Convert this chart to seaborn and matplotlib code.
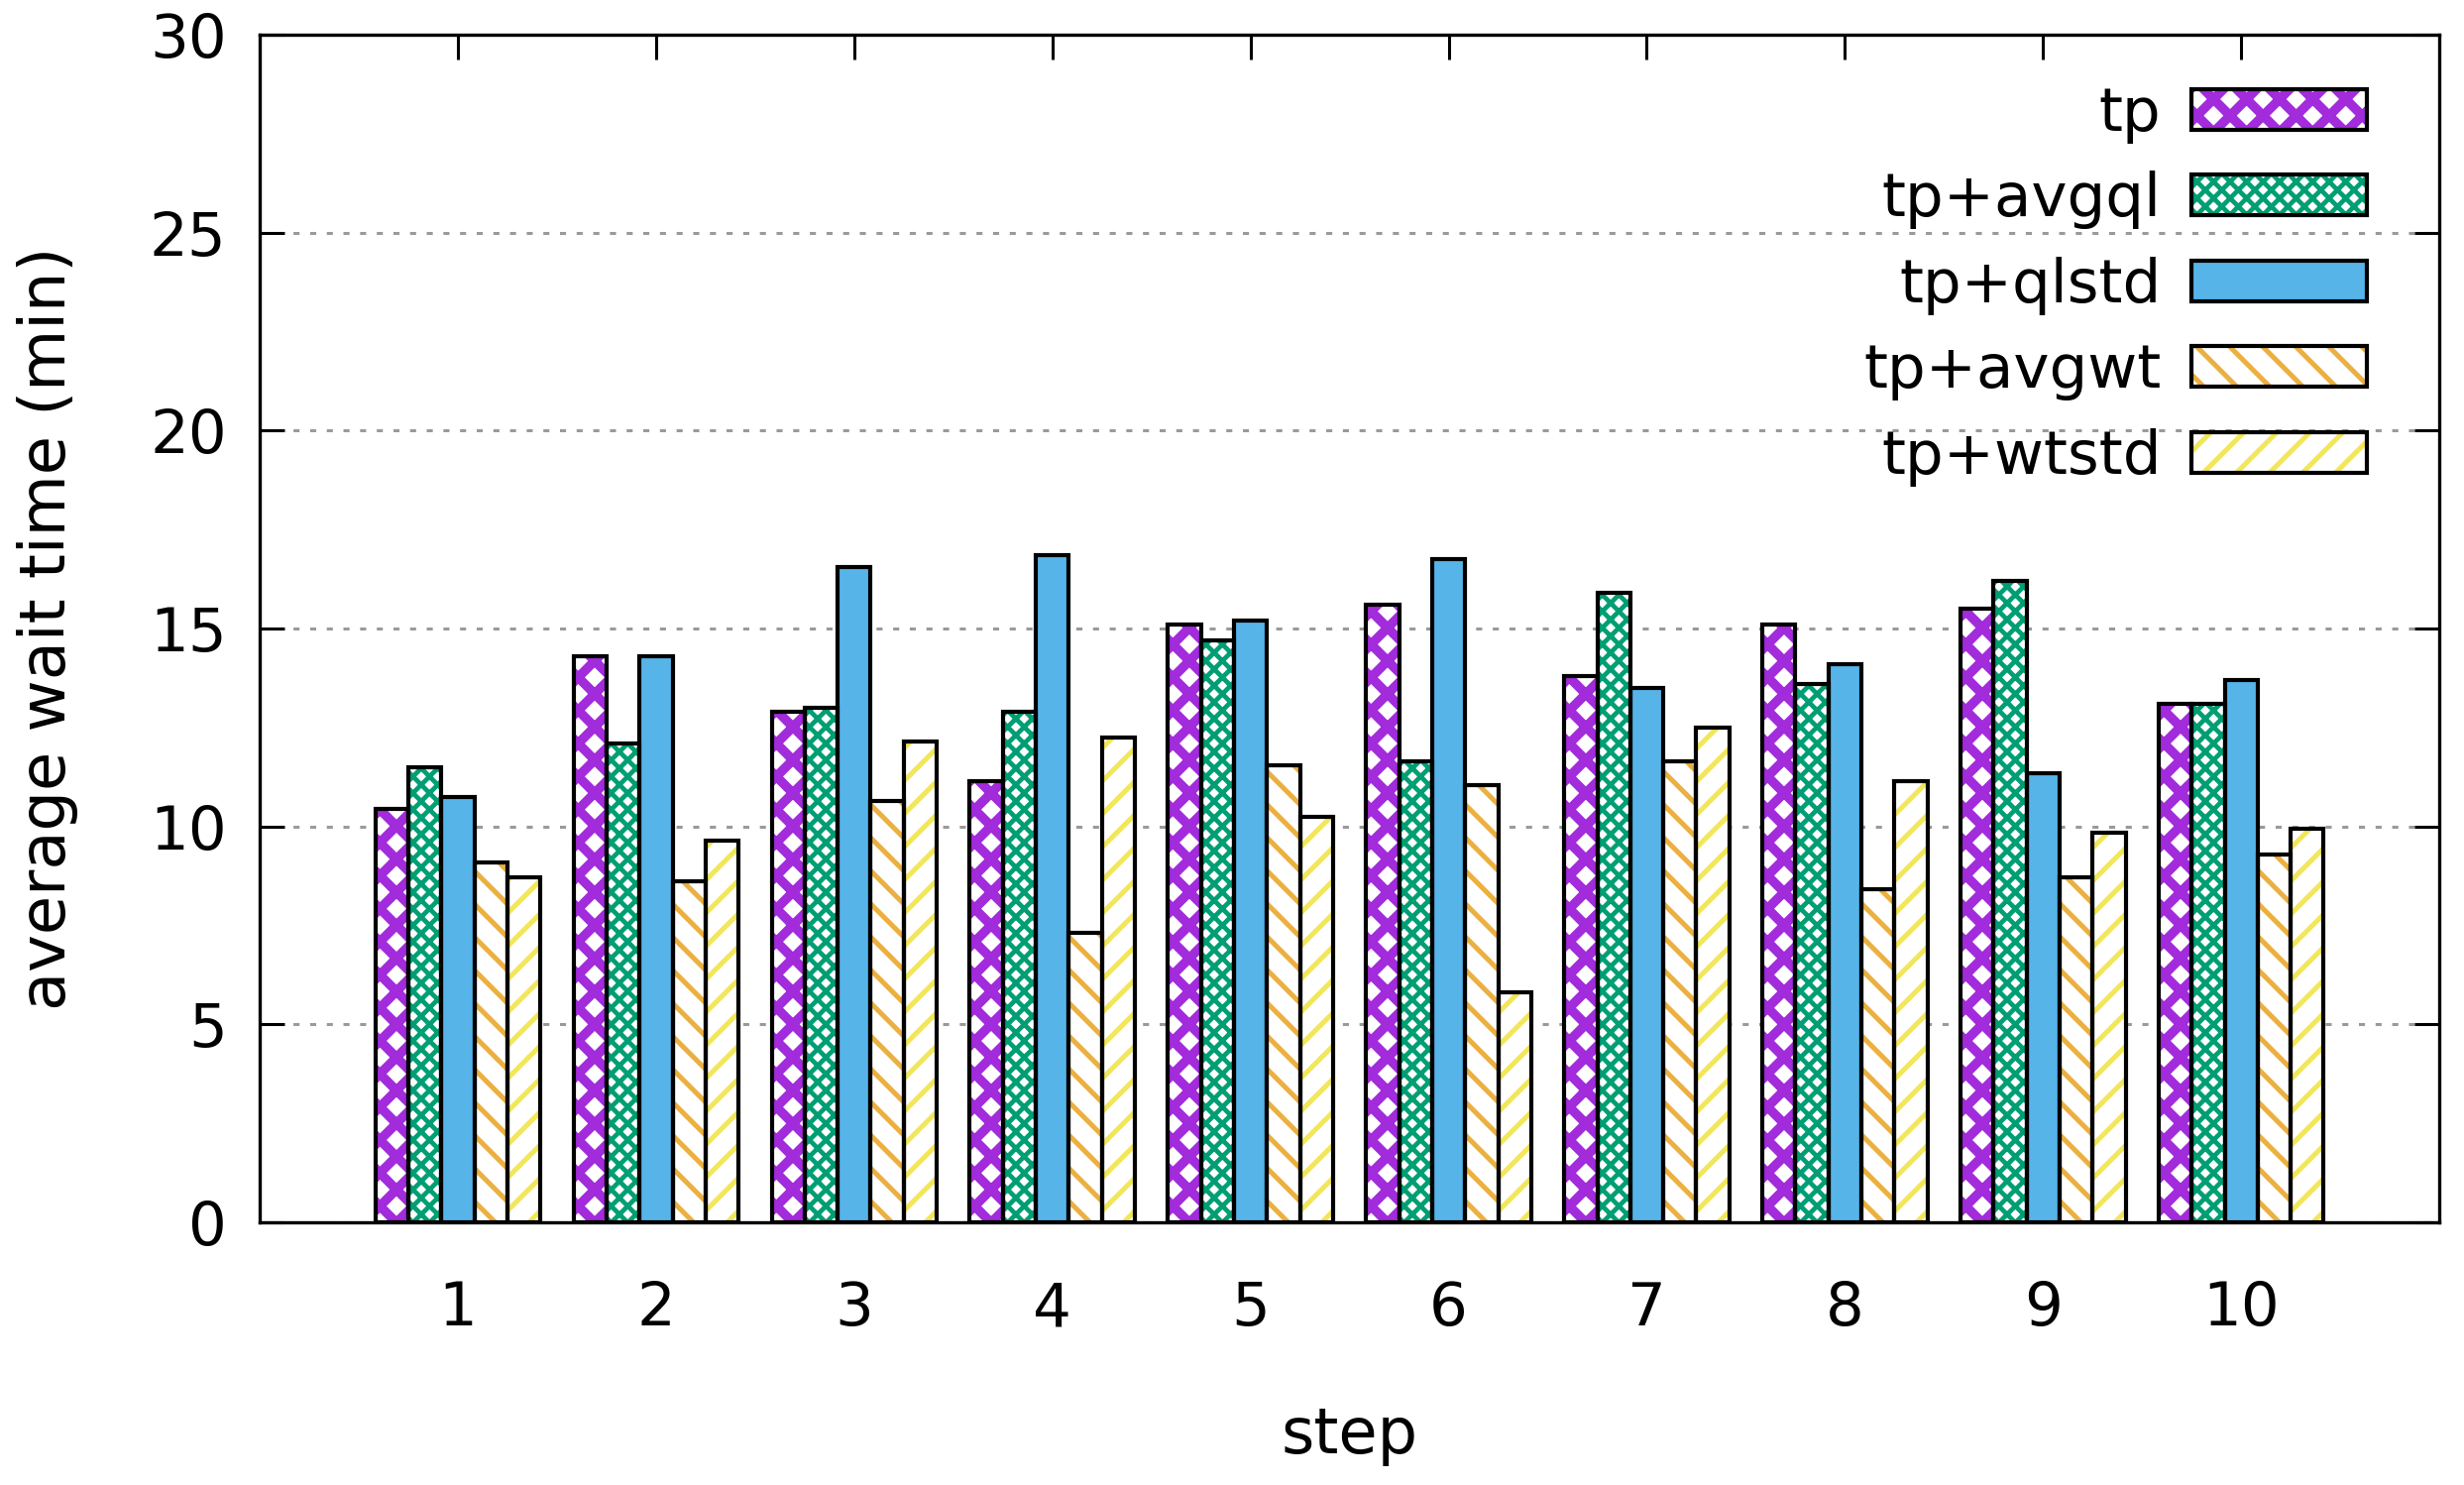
import matplotlib
matplotlib.use("Agg")
import matplotlib.pyplot as plt
from matplotlib.patches import Patch, Rectangle
from matplotlib.legend_handler import HandlerTuple
import seaborn as sns
import pandas as pd

# data
steps = ["1", "2", "3", "4", "5", "6", "7", "8", "9", "10"]
methods = ["tp", "tp+avgql", "tp+qlstd", "tp+avgwt", "tp+wtstd"]
tp = [10.45, 14.3, 12.9, 11.15, 15.1, 15.6, 13.8, 15.1, 15.5, 13.1]
tp_avgql = [11.5, 12.1, 13.0, 12.9, 14.7, 11.65, 15.9, 13.6, 16.2, 13.1]
tp_qlstd = [10.75, 14.3, 16.55, 16.85, 15.2, 16.75, 13.5, 14.1, 11.35, 13.7]
tp_avgwt = [9.1, 8.6, 10.65, 7.3, 11.55, 11.05, 11.65, 8.4, 8.7, 9.3]
tp_wtstd = [8.7, 9.65, 12.15, 12.25, 10.25, 5.8, 12.5, 11.15, 9.85, 9.95]

colors = ["#A22BDB", "#009E73", "#56B4E9", "#EBB040", "#F2E65A"]
hatches = ["xx", "xxxx", "", "\\\\", "//"]
hatch_lw = [3.4, 1.7, 0, 1.8, 1.8]

df = pd.DataFrame({
    "step": steps * 5,
    "method": [m for m in methods for _ in steps],
    "wait": tp + tp_avgql + tp_qlstd + tp_avgwt + tp_wtstd,
})

plt.rcParams["font.family"] = ["DejaVu Sans"]
plt.rcParams["hatch.linewidth"] = 1.8

fig = plt.figure(figsize=(12.43, 7.49), dpi=200)
ax = fig.add_axes([0.1054, 0.177, 0.8846, 0.7996])

sns.barplot(data=df, x="step", y="wait", hue="method", order=steps,
            hue_order=methods, palette=colors, width=0.833, gap=0,
            saturation=1, legend=False, errorbar=None, ax=ax)

for i, cont in enumerate(ax.containers):
    for p in cont.patches:
        if hatches[i]:
            p.set_facecolor("white")
            p.set_edgecolor(colors[i])
            p.set_hatch(hatches[i])
            if hasattr(p, "set_hatch_linewidth"):
                p.set_hatch_linewidth(hatch_lw[i])
        p.set_linewidth(0)
        p.set_zorder(2)
        ax.add_patch(Rectangle(p.get_xy(), p.get_width(), p.get_height(),
                               fill=False, edgecolor="black", lw=1.5, zorder=3))

ax.set_xlim(-1, 10)
ax.set_ylim(0, 30)
ax.set_yticks(range(0, 31, 5))
ax.yaxis.grid(True, color="#9a9a9a", linestyle=(0, (2, 3.5)), lw=1.1)
ax.set_axisbelow(True)

for s in ax.spines.values():
    s.set_linewidth(1.2)
    s.set_color("black")
ax.tick_params(axis="both", direction="in", length=9, width=1.1,
               labelsize=22, top=True, right=True, bottom=False)
ax.tick_params(axis="x", pad=21)
ax.tick_params(axis="y", pad=12)

ax.set_xlabel("step", fontsize=23, labelpad=24)
ax.set_ylabel("average wait time (min)", fontsize=23, labelpad=26)

handles = []
for i in range(5):
    fill = Patch(facecolor="white" if hatches[i] else colors[i],
                 edgecolor=colors[i], hatch=hatches[i] or None, lw=0)
    outline = Patch(fill=False, edgecolor="black", lw=1.5)
    handles.append((fill, outline))

leg = ax.legend(handles, methods, handler_map={tuple: HandlerTuple(ndivide=1)},
                loc="upper right", bbox_to_anchor=(0.978, 0.978), frameon=False,
                markerfirst=False, fontsize=22, handlelength=2.9, handleheight=0.66,
                labelspacing=0.45, handletextpad=0.5, borderaxespad=0)

# legend copies lose the per-patch hatch width, so put it back
for r in leg.findobj(Rectangle):
    h = r.get_hatch()
    if h in hatches and h and hasattr(r, "set_hatch_linewidth"):
        r.set_hatch_linewidth(hatch_lw[hatches.index(h)])

fig.savefig("out.png", dpi=200)
